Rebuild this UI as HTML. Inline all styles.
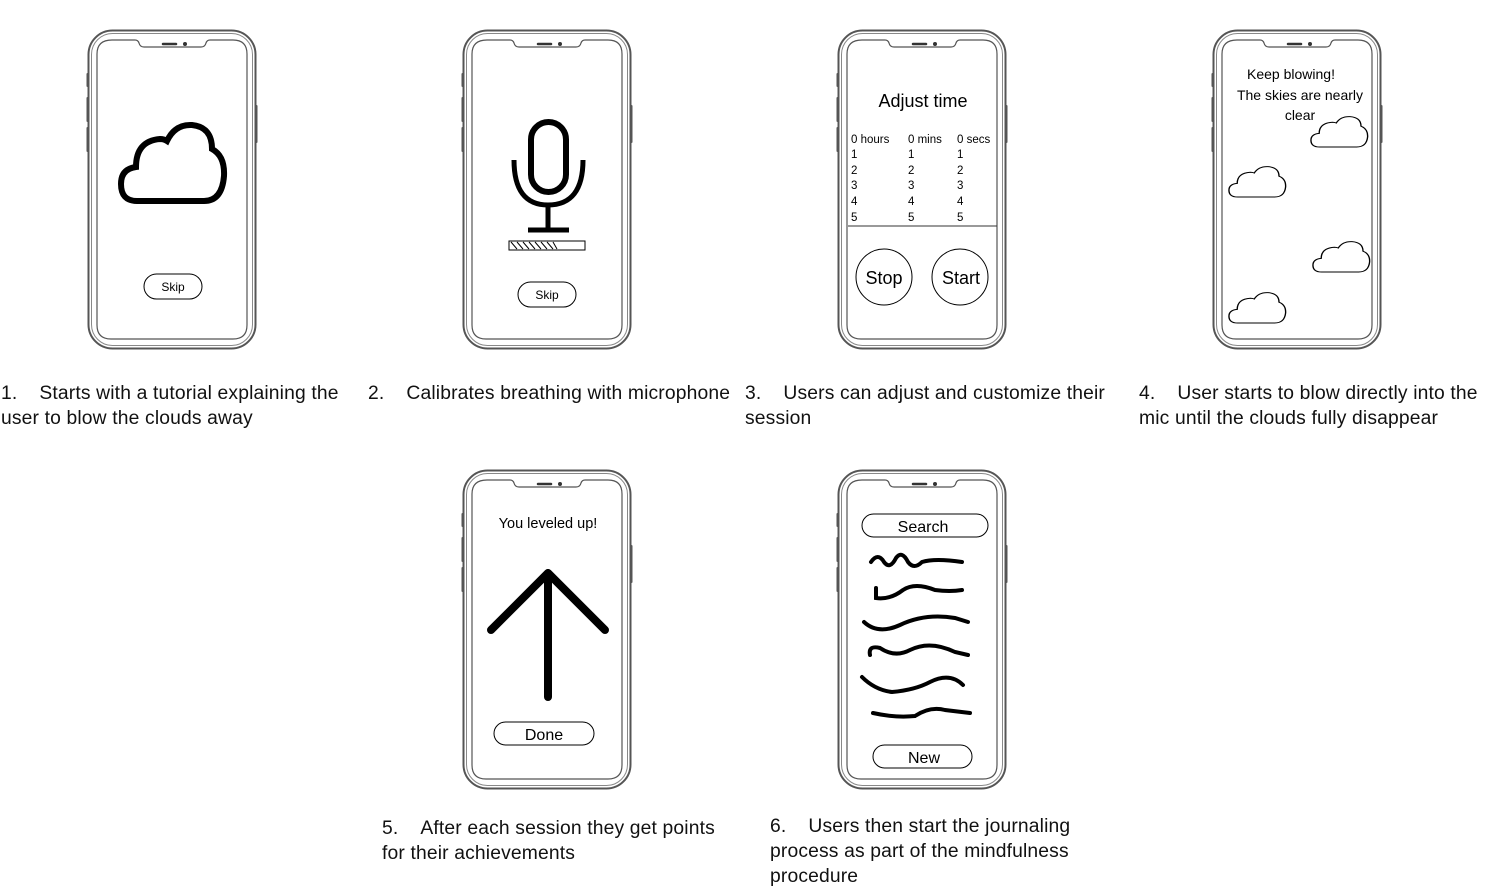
<!DOCTYPE html>
<html><head><meta charset="utf-8"><style>
body{margin:0;background:#fff;width:1485px;height:890px;overflow:hidden;position:relative;font-family:"Liberation Sans",sans-serif;}
.t{position:absolute;font-size:19.3px;letter-spacing:0.15px;line-height:25px;color:#111;white-space:nowrap;}
svg{position:absolute;left:0;top:0}
</style></head><body>
<svg width="1485" height="890" viewBox="0 0 1485 890" font-family="Liberation Sans, sans-serif">
<defs>
<g id="ph">
<rect x="-1.5" y="43" width="3" height="14" rx="1" fill="#555"/>
<rect x="-1.5" y="67" width="3" height="25" rx="1" fill="#555"/>
<rect x="-1.5" y="97" width="3" height="25" rx="1" fill="#555"/>
<rect x="166.5" y="75" width="3" height="38" rx="1" fill="#555"/>
<rect x="0.5" y="0.5" width="167" height="318" rx="24" fill="#fff" stroke="#555" stroke-width="2"/>
<rect x="3.5" y="3.5" width="161" height="312" rx="21" fill="none" stroke="#888" stroke-width="1"/>
<path d="M24 10 H47 Q50 10 51 13 Q52 17 56 17 H113 Q117 17 118 13 Q119 10 122 10 H145 Q159 10 159 24 V295 Q159 309 145 309 H23 Q9 309 9 295 V24 Q9 10 24 10 Z" fill="#fff" stroke="#555" stroke-width="1.2"/>
<line x1="75" y1="14" x2="88" y2="14" stroke="#333" stroke-width="2.5" stroke-linecap="round"/>
<circle cx="97" cy="14" r="2" fill="#333"/>
</g>
<path id="cl" d="M-35 40 Q-51 40 -51 23 Q-51 8 -36 6 Q-36 -20 -12 -22 Q-8 -22 -5 -20 Q3 -37 20 -36 Q40 -34 40 -12 Q53 -5 52 15 Q50 40 32 40 Z"/>
</defs>
<use href="#ph" x="88" y="30"/>
<use href="#ph" x="463" y="30"/>
<use href="#ph" x="838" y="30"/>
<use href="#ph" x="1213" y="30"/>
<use href="#ph" x="463" y="470"/>
<use href="#ph" x="838" y="470"/>
<!-- phone1 -->
<use href="#cl" transform="translate(172,161)" fill="none" stroke="#000" stroke-width="6"/>
<rect x="144" y="274" width="58" height="25" rx="12.5" fill="#fff" stroke="#000"/>
<text x="173" y="291" font-size="12" text-anchor="middle">Skip</text>
<!-- phone2 mic -->
<rect x="531" y="122" width="35" height="70" rx="17.5" fill="none" stroke="#000" stroke-width="6"/>
<path d="M514 160 Q514 205 548 205 Q583 205 583 160" fill="none" stroke="#000" stroke-width="5"/>
<line x1="548" y1="205" x2="548" y2="230" stroke="#000" stroke-width="5"/>
<line x1="528" y1="230" x2="569" y2="230" stroke="#000" stroke-width="5"/>
<rect x="509" y="241" width="76" height="9" fill="#fff" stroke="#000"/>
<path d="M511 242 l6 7 M517 242 l6 7 M523 242 l6 7 M529 242 l6 7 M535 242 l6 7 M541 242 l6 7 M547 242 l6 7 M553 242 l4 7" stroke="#000" stroke-width="1"/>
<rect x="518" y="282" width="58" height="25" rx="12.5" fill="#fff" stroke="#000"/>
<text x="547" y="299" font-size="12" text-anchor="middle">Skip</text>
<!-- phone3 -->
<text x="923" y="107" font-size="18" text-anchor="middle">Adjust time</text>
<g font-size="11.5">
<text x="851" y="143">0 hours</text><text x="908" y="143">0 mins</text><text x="957" y="143">0 secs</text>
<text x="851" y="158">1</text><text x="908" y="158">1</text><text x="957" y="158">1</text>
<text x="851" y="174">2</text><text x="908" y="174">2</text><text x="957" y="174">2</text>
<text x="851" y="189">3</text><text x="908" y="189">3</text><text x="957" y="189">3</text>
<text x="851" y="205">4</text><text x="908" y="205">4</text><text x="957" y="205">4</text>
<text x="851" y="221">5</text><text x="908" y="221">5</text><text x="957" y="221">5</text>
</g>
<line x1="848" y1="226" x2="997" y2="226" stroke="#333"/>
<circle cx="884" cy="277" r="28" fill="none" stroke="#000"/>
<circle cx="960" cy="277" r="28" fill="none" stroke="#000"/>
<text x="884" y="284" font-size="18" text-anchor="middle">Stop</text>
<text x="961" y="284" font-size="18" text-anchor="middle">Start</text>
<!-- phone4 -->
<text x="1291" y="79" font-size="14" text-anchor="middle">Keep blowing!</text>
<text x="1300" y="100" font-size="14" text-anchor="middle">The skies are nearly</text>
<text x="1300" y="120" font-size="14" text-anchor="middle">clear</text>
<g fill="none" stroke="#000" stroke-width="2.5">
<use href="#cl" transform="translate(1339,131) scale(0.55,0.4)"/>
<use href="#cl" transform="translate(1257,181) scale(0.55,0.4)"/>
<use href="#cl" transform="translate(1341,256) scale(0.55,0.4)"/>
<use href="#cl" transform="translate(1257,307) scale(0.55,0.4)"/>
</g>
<!-- phone5 -->
<text x="548" y="528" font-size="14.5" text-anchor="middle">You leveled up!</text>
<path d="M491 630 L548 573 L605 630 M548 573 V697" fill="none" stroke="#000" stroke-width="8" stroke-linecap="round" stroke-linejoin="round"/>
<rect x="494" y="722" width="100" height="23" rx="11.5" fill="#fff" stroke="#000"/>
<text x="544" y="740" font-size="16" text-anchor="middle">Done</text>
<!-- phone6 -->
<rect x="862" y="514" width="126" height="23" rx="11.5" fill="#fff" stroke="#000"/>
<text x="923" y="532" font-size="16" text-anchor="middle">Search</text>
<g fill="none" stroke="#000" stroke-width="4" stroke-linecap="round">
<path d="M871 562 Q878 552 884 562 Q890 570 896 558 Q902 550 908 562 Q914 570 922 562 Q935 558 962 562"/>
<path d="M876 588 L876 598 Q890 600 903 590 Q915 582 935 590 Q950 592 962 590"/>
<path d="M864 622 Q878 635 900 625 Q925 613 955 618 L968 622"/>
<path d="M870 655 Q868 645 880 648 Q895 658 910 650 Q930 640 955 652 L968 655"/>
<path d="M862 677 Q875 690 892 692 Q915 690 930 682 Q950 672 963 685"/>
<path d="M873 713 Q895 718 915 716 Q930 706 945 710 L970 713"/>
</g>
<rect x="873" y="745" width="99" height="23" rx="11.5" fill="#fff" stroke="#000"/>
<text x="924" y="763" font-size="16" text-anchor="middle">New</text>
</svg>
<div class="t" style="left:1px;top:381px">1.&nbsp;&nbsp;&nbsp;&nbsp;Starts with a tutorial explaining the<br>user to blow the clouds away</div>
<div class="t" style="left:368px;top:381px">2.&nbsp;&nbsp;&nbsp;&nbsp;Calibrates breathing with microphone</div>
<div class="t" style="left:745px;top:381px">3.&nbsp;&nbsp;&nbsp;&nbsp;Users can adjust and customize their<br>session</div>
<div class="t" style="left:1139px;top:381px">4.&nbsp;&nbsp;&nbsp;&nbsp;User starts to blow directly into the<br>mic until the clouds fully disappear</div>
<div class="t" style="left:382px;top:816px">5.&nbsp;&nbsp;&nbsp;&nbsp;After each session they get points<br>for their achievements</div>
<div class="t" style="left:770px;top:814px">6.&nbsp;&nbsp;&nbsp;&nbsp;Users then start the journaling<br>process as part of the mindfulness<br>procedure</div>
</body></html>
